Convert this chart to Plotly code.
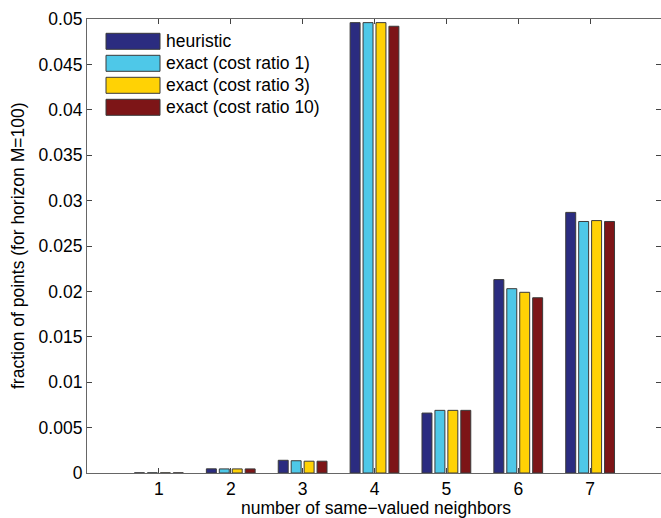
import plotly.graph_objects as go

# ---- data ----
categories = [1, 2, 3, 4, 5, 6, 7]
series_names = ["heuristic", "exact (cost ratio 1)", "exact (cost ratio 3)", "exact (cost ratio 10)"]
heuristic = [0.00002, 0.00046, 0.0014, 0.0496, 0.0066, 0.0213, 0.0287]
exact_r1 = [0.00002, 0.00045, 0.00135, 0.0496, 0.0069, 0.0203, 0.0277]
exact_r3 = [0.00002, 0.00045, 0.0013, 0.0496, 0.0069, 0.0199, 0.0278]
exact_r10 = [0.00002, 0.00045, 0.0013, 0.0492, 0.0069, 0.0193, 0.0277]
y_ticks = [0, 0.005, 0.01, 0.015, 0.02, 0.025, 0.03, 0.035, 0.04, 0.045, 0.05]
y_ticklabels = ["0", "0.005", "0.01", "0.015", "0.02", "0.025", "0.03", "0.035", "0.04", "0.045", "0.05"]

colors = ["#2b2c80", "#4ec8e8", "#ffd205", "#7d1517"]
series = [heuristic, exact_r1, exact_r3, exact_r10]

W, H = 661, 518
L, R, T, B = 87, 0, 19, 45
FONT = "Liberation Sans, Arial, Helvetica, sans-serif"
FS = 17.5
FS_TICK = 17.5

fig = go.Figure()
for name, vals, c in zip(series_names, series, colors):
    fig.add_trace(go.Bar(
        x=categories, y=vals, name=name,
        marker=dict(color=c, line=dict(color="#3a3a3a", width=1)),
        showlegend=False,
    ))

plot_w = W - L - R
plot_h = H - T - B

def px_to_paper_x(px):
    return (px - L) / plot_w

def px_to_paper_y(py):
    return (H - B - py) / plot_h

# custom MATLAB-style legend
shapes = []
annotations = []
for i, (name, c) in enumerate(zip(series_names, colors)):
    top = 33.3 + 22 * i
    bot = top + 16
    shapes.append(dict(
        type="rect", xref="paper", yref="paper",
        x0=px_to_paper_x(106), x1=px_to_paper_x(160),
        y0=px_to_paper_y(bot), y1=px_to_paper_y(top),
        fillcolor=c, line=dict(color="#3a3a3a", width=1),
    ))
    annotations.append(dict(
        xref="paper", yref="paper",
        x=px_to_paper_x(164), y=px_to_paper_y((top + bot) / 2),
        xanchor="left", yanchor="middle", showarrow=False,
        text=name, font=dict(family=FONT, size=FS, color="black"),
    ))

# axis titles
annotations.append(dict(
    xref="paper", yref="paper",
    x=px_to_paper_x(376), y=px_to_paper_y(508),
    xanchor="center", yanchor="middle", showarrow=False,
    text="number of same\u2212valued neighbors",
    font=dict(family=FONT, size=FS, color="black"),
))
annotations.append(dict(
    xref="paper", yref="paper",
    x=px_to_paper_x(18), y=px_to_paper_y(246),
    xanchor="center", yanchor="middle", showarrow=False, textangle=-90,
    text="fraction of points (for horizon M=100)",
    font=dict(family=FONT, size=FS, color="black"),
))

axis_common = dict(
    showline=True, linecolor="#666666", linewidth=1.2, mirror="allticks",
    ticks="inside", ticklen=5, tickcolor="#444444", tickwidth=1,
    showgrid=False, zeroline=False,
    tickfont=dict(family=FONT, size=FS_TICK, color="black"),
)

fig.update_layout(
    width=W, height=H,
    margin=dict(l=L, r=R, t=T, b=B, pad=0),
    paper_bgcolor="white", plot_bgcolor="white",
    barmode="group", bargap=0.28, bargroupgap=0.23,
    xaxis=dict(range=[0, 7.986], tickvals=categories,
               ticktext=[str(c) for c in categories], **axis_common),
    yaxis=dict(range=[0, 0.05], tickvals=y_ticks, ticktext=y_ticklabels,
               **axis_common),
    shapes=shapes, annotations=annotations,
    showlegend=False,
)

fig.write_html("out.html")
